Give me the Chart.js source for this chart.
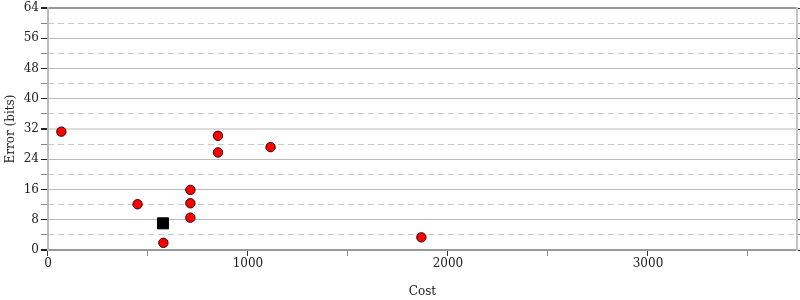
<!DOCTYPE html>
<html>
<head>
<meta charset="utf-8">
<script src="https://cdn.jsdelivr.net/npm/chart.js@4"></script>
<style>
  html, body { margin: 0; padding: 0; background: #fff; }
  #wrap { width: 800px; height: 300px; }
</style>
</head>
<body>
<div id="wrap"><canvas id="chart"></canvas></div>
<script>
// measured points
const costs = [67, 448, 577, 712, 712, 712, 850, 850, 1113, 1867];
const errors = [31.3, 12.1, 1.9, 15.9, 12.35, 8.55, 30.2, 25.8, 27.2, 3.35];
// the black square
const refCost = [575];
const refError = [7.05];

const xMax = 3745;
const yMax = 64;
const xTicks = [0, 500, 1000, 1500, 2000, 2500, 3000, 3500];
const xLabels = [0, 1000, 2000, 3000];
const yTicks = [0, 4, 8, 12, 16, 20, 24, 28, 32, 36, 40, 44, 48, 52, 56, 60, 64];
const yLabels = [0, 8, 16, 24, 32, 40, 48, 56, 64];

Chart.defaults.font.family = '"DejaVu Serif", serif';
Chart.defaults.font.size = 12;
Chart.defaults.color = '#222';

const toPoints = (xs, ys) => xs.map((x, i) => ({ x: x, y: ys[i] }));
const setTicks = (list) => (scale) => { scale.ticks = list.map((v) => ({ value: v })); };

function yGridColor(ctx) {
  const v = ctx.tick ? ctx.tick.value : null;
  if (v === 0 || v === 64) return '#999';
  if (v === 32) return '#ddd';
  if (v % 8 === 0) return '#bbb';
  return 'rgba(0,0,0,0)';
}

const ctx = document.getElementById('chart').getContext('2d');
const chart = new Chart(ctx, {
  type: 'scatter',
  data: {
    datasets: [{
      label: 'points',
      data: toPoints(costs, errors),
      backgroundColor: '#ff0000',
      borderColor: '#300',
      borderWidth: 1,
      pointRadius: 4.7,
    }, {
      label: 'reference',
      data: toPoints(refCost, refError),
      backgroundColor: '#000',
      borderColor: '#000',
      borderWidth: 1,
      pointStyle: 'rect',
      pointRadius: 7.8,
    }],
  },
  options: {
    responsive: true,
    maintainAspectRatio: false,
    animation: false,
    events: [],
    layout: { autoPadding: false, padding: { left: 1.3, top: 0, right: 0, bottom: 0 } },
    plugins: { legend: { display: false }, tooltip: { enabled: false } },
    scales: {
      x: {
        type: 'linear',
        min: 0,
        max: xMax,
        afterBuildTicks: setTicks(xTicks),
        grid: {
          drawOnChartArea: false,
          tickLength: 6,
          tickColor: (c) => (c.tick && c.tick.value % 1000 === 0 ? '#333' : '#888'),
        },
        border: { color: '#999', width: 2 },
        ticks: {
          autoSkip: false,
          maxRotation: 0,
          padding: 1,
          callback: (v) => (xLabels.includes(v) ? String(v) : ''),
        },
        title: { display: true, text: 'Cost', padding: { top: 12.2, bottom: 1 } },
      },
      y: {
        min: 0,
        max: yMax,
        position: 'left',
        afterBuildTicks: setTicks(yTicks),
        grid: {
          color: yGridColor,
          lineWidth: (c) => (c.tick && [0, 32, 64].includes(c.tick.value) ? 2 : 1),
          tickLength: 7,
          tickColor: (c) => (c.tick && c.tick.value % 8 === 0 ? '#222' : '#888'),
        },
        border: { color: '#bbb', width: 2 },
        ticks: {
          autoSkip: false,
          padding: 2,
          font: { lineHeight: 1.0 },
          callback: (v) => (yLabels.includes(v) ? String(v) : ''),
        },
        title: { display: true, text: 'Error (bits)', padding: { top: 2, bottom: 4 } },
      },
      y2: {
        min: 0,
        max: yMax,
        position: 'right',
        afterBuildTicks: setTicks(yTicks),
        grid: {
          color: (c) => (c.tick && c.tick.value % 8 === 4 ? '#c8c8c8' : 'rgba(0,0,0,0)'),
          tickLength: 3,
          tickColor: (c) => (c.tick && c.tick.value % 8 === 0 ? '#333' : '#888'),
        },
        border: { color: '#c4c4c4', width: 2, dash: [6, 4] },
        ticks: { autoSkip: false, display: false },
      },
    },
  },
});
</script>
</body>
</html>
